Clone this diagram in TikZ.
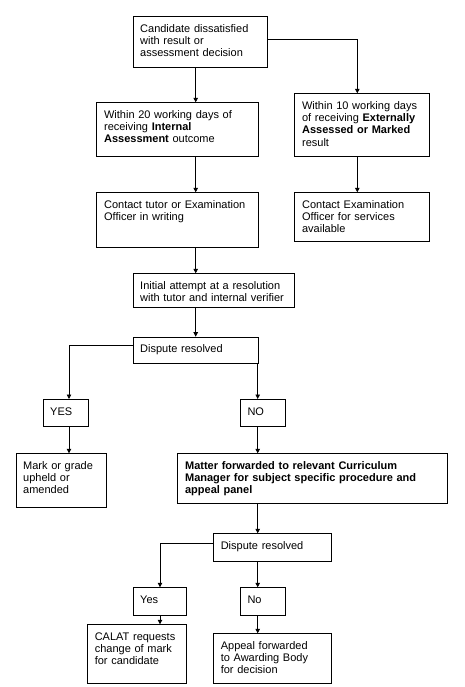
\documentclass[tikz,border=0pt]{standalone}
\usepackage{fontspec}
\setmainfont{Liberation Sans}
\usetikzlibrary{arrows.meta,calc}
\begin{document}
\begin{tikzpicture}[x=1pt,y=-1pt,
  box/.style={draw, line width=0.8pt, inner sep=0pt, anchor=north west},
  txt/.style={inner sep=0pt, anchor=base west, align=left, text width=#1,
    font=\fontsize{11}{12.2}\selectfont},
  txt/.default=170pt,
  arr/.style={line width=0.8pt, -{Triangle[length=4.5pt,width=4.5pt]}}]
\useasboundingbox (0,0) rectangle (464,687);
\fill[white] (0,0) rectangle (464,687);
% boxes
\node[box, minimum width=134.6pt, minimum height=51.3pt] (b1) at (132.7,16) {};
\node[box, minimum width=162pt, minimum height=53.7pt] (b2) at (96.3,102.3) {};
\node[box, minimum width=135pt, minimum height=62.7pt] (b3) at (294.3,93.3) {};
\node[box, minimum width=162pt, minimum height=54.4pt] (b4) at (96.3,192.3) {};
\node[box, minimum width=135pt, minimum height=48.7pt] (b5) at (294.3,192.3) {};
\node[box, minimum width=161.6pt, minimum height=33.4pt] (b6) at (132.7,273.3) {};
\node[box, minimum width=125.6pt, minimum height=26.6pt] (b7) at (132.7,336.7) {};
\node[box, minimum width=45pt, minimum height=27pt] (y1) at (42.7,399) {};
\node[box, minimum width=45pt, minimum height=27pt] (n1) at (240,399) {};
\node[box, minimum width=90pt, minimum height=54pt] (mk) at (15.7,453.3) {};
\node[box, minimum width=270pt, minimum height=50pt] (mt) at (177.3,453.3) {};
\node[box, minimum width=117.4pt, minimum height=27.7pt] (d2) at (213.3,533.3) {};
\node[box, minimum width=53.3pt, minimum height=27.4pt] (y2) at (132.7,587.3) {};
\node[box, minimum width=45pt, minimum height=27.4pt] (n2) at (240,587.3) {};
\node[box, minimum width=98.7pt, minimum height=58.4pt] (ca) at (87.3,624.3) {};
\node[box, minimum width=117.4pt, minimum height=49.4pt] (ap) at (213.3,633.3) {};
% texts
\node[txt] (t1) at ($(b1.north west)+(7.3,16.2)$) {Candidate dissatisfied\\with result or\\assessment decision};
\node[txt] (t2) at ($(b2.north west)+(7.6,16.2)$) {Within 20 working days of\\receiving \textbf{Internal}\\\textbf{Assessment} outcome};
\node[txt] (t3) at ($(b3.north west)+(7.6,16.2)$) {Within 10 working days\\of receiving \textbf{Externally}\\\textbf{Assessed or Marked}\\result};
\node[txt] (t4) at ($(b4.north west)+(7.6,16.2)$) {Contact tutor or Examination\\Officer in writing};
\node[txt] (t5) at ($(b5.north west)+(7.6,16.2)$) {Contact Examination\\Officer for services\\available};
\node[txt] (t6) at ($(b6.north west)+(7.3,16.2)$) {Initial attempt at a resolution\\with tutor and internal verifier};
\node[txt] (t7) at ($(b7.north west)+(7.3,16.2)$) {Dispute resolved};
\node[txt=40pt] (ty1) at ($(y1.north west)+(7.3,16.2)$) {YES};
\node[txt=40pt] (tn1) at ($(n1.north west)+(7.3,16.2)$) {NO};
\node[txt] (tmk) at ($(mk.north west)+(7.3,16.2)$) {Mark or grade\\upheld or\\amended};
\node[txt=270pt] (tmt) at ($(mt.north west)+(7.6,16.2)$) {\textbf{Matter forwarded to relevant Curriculum}\\\textbf{Manager for subject specific procedure and}\\\textbf{appeal panel}};
\node[txt] (td2) at ($(d2.north west)+(7.3,16.2)$) {Dispute resolved};
\node[txt=40pt] (ty2) at ($(y2.north west)+(7.3,16.2)$) {Yes};
\node[txt=40pt] (tn2) at ($(n2.north west)+(7.3,16.2)$) {No};
\node[txt] (tca) at ($(ca.north west)+(7.3,16.2)$) {CALAT requests\\change of mark\\for candidate};
\node[txt] (tap) at ($(ap.north west)+(7.3,16.2)$) {Appeal forwarded\\to Awarding Body\\for decision};
% routing coordinates
\coordinate (xa) at (195.7,0);
\coordinate (xb) at (357.3,39.3);
\coordinate (xy) at (69,345.7);
\coordinate (xn) at (257.7,0);
\coordinate (xy2) at (160,543.3);
% connectors
\draw[arr] (b1.south -| xa) -- (b2.north -| xa);
\draw[arr] (b1.east |- xb) -| (b3.north -| xb);
\draw[arr] (b2.south -| xa) -- (b4.north -| xa);
\draw[arr] (b3.south -| xb) -- (b5.north -| xb);
\draw[arr] (b4.south -| xa) -- (b6.north -| xa);
\draw[arr] (b6.south -| xa) -- (b7.north -| xa);
\draw[arr] (b7.west |- xy) -| (y1.north -| xy);
\draw[arr] (b7.south -| xn) -- (n1.north -| xn);
\draw[arr] (y1.south -| xy) -- (mk.north -| xy);
\draw[arr] (n1.south -| xn) -- (mt.north -| xn);
\draw[arr] (mt.south -| xn) -- (d2.north -| xn);
\draw[arr] (d2.west |- xy2) -| (y2.north -| xy2);
\draw[arr] (d2.south -| xn) -- (n2.north -| xn);
\draw[arr] (y2.south -| xy2) -- (ca.north -| xy2);
\draw[arr] (n2.south -| xn) -- (ap.north -| xn);
\end{tikzpicture}
\end{document}
